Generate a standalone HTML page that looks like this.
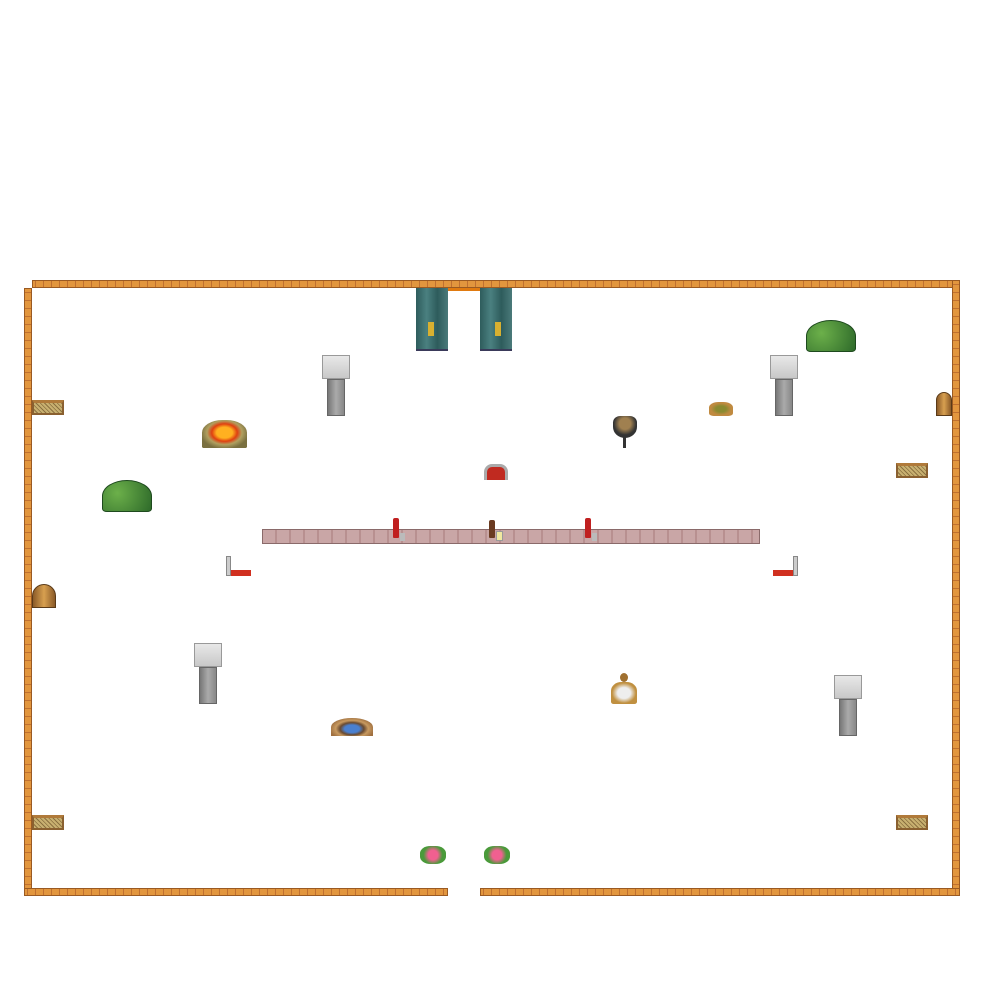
<!DOCTYPE html>
<html><head><meta charset="utf-8"><style>
body{margin:0;background:#fff;width:992px;height:992px;position:relative;overflow:hidden;font-family:"Liberation Sans",sans-serif}
div{position:absolute;box-sizing:border-box}
.wh{background:#e2963e;border:1px solid #9a5a22;background-image:repeating-linear-gradient(90deg,transparent 0 2px,#c07030 2px 3px,transparent 3px 8px)}
.wv{background:#e2963e;border:1px solid #9a5a22;background-image:repeating-linear-gradient(0deg,transparent 0 2px,#c07030 2px 3px,transparent 3px 8px)}
.cap{background:linear-gradient(#e8e8e8,#c8c8c8);border:1px solid #999}
.col{background:linear-gradient(90deg,#777,#aaa,#888);border:1px solid #666}
.fence{background:repeating-linear-gradient(45deg,#c8b070 0 2px,#8a7040 2px 3px);border:2px solid #8a6030;border-top:3px solid #b07a3a}
.door{background:linear-gradient(90deg,#8a5a28,#d8a050,#8a5a28);border-radius:12px 12px 0 0;border:1px solid #5a3a18}
.bush{background:radial-gradient(circle at 30% 40%,#6cb04a,#2e6a2a);border-radius:50% 50% 10% 10%;border:1px solid #1e4a1e}
.curt{background:linear-gradient(90deg,#2e5c5c,#4a8080,#2e5c5c,#4a7a7a);border-bottom:2px solid #3a3a5a}
.bottle{background:#c02020;border-radius:2px 2px 1px 1px}
.flower{background:radial-gradient(circle,#f06090 30%,#4a9a3a 60%);border-radius:40%}
</style></head><body>
<div class="wh" style="left:32px;top:280px;width:928px;height:8px"></div>
<div class="wv" style="left:952px;top:280px;width:8px;height:616px"></div>
<div class="wv" style="left:24px;top:288px;width:8px;height:608px"></div>
<div class="wh" style="left:24px;top:888px;width:424px;height:8px"></div>
<div class="wh" style="left:480px;top:888px;width:480px;height:8px"></div>
<div style="left:448px;top:288px;width:32px;height:3px;background:#e07a10"></div>
<div class="curt" style="left:416px;top:288px;width:32px;height:63px"></div>
<div class="curt" style="left:480px;top:288px;width:32px;height:63px"></div>
<div style="left:428px;top:322px;width:6px;height:14px;background:#d8b030"></div>
<div style="left:495px;top:322px;width:6px;height:14px;background:#d8b030"></div>
<div class="bush" style="left:806px;top:320px;width:50px;height:32px"></div>
<div class="bush" style="left:102px;top:480px;width:50px;height:32px"></div>

<div class="cap" style="left:322px;top:355px;width:28px;height:24px"></div>
<div class="col" style="left:327px;top:379px;width:18px;height:37px"></div>
<div class="cap" style="left:770px;top:355px;width:28px;height:24px"></div>
<div class="col" style="left:775px;top:379px;width:18px;height:37px"></div>
<div class="cap" style="left:194px;top:643px;width:28px;height:24px"></div>
<div class="col" style="left:199px;top:667px;width:18px;height:37px"></div>
<div class="cap" style="left:834px;top:675px;width:28px;height:24px"></div>
<div class="col" style="left:839px;top:699px;width:18px;height:37px"></div>

<div class="fence" style="left:32px;top:400px;width:32px;height:15px"></div>
<div class="fence" style="left:896px;top:463px;width:32px;height:15px"></div>
<div class="fence" style="left:32px;top:815px;width:32px;height:15px"></div>
<div class="fence" style="left:896px;top:815px;width:32px;height:15px"></div>
<div class="door" style="left:936px;top:392px;width:16px;height:24px"></div>
<div class="door" style="left:32px;top:584px;width:24px;height:24px"></div>

<div style="left:202px;top:420px;width:45px;height:28px;background:radial-gradient(ellipse at 50% 45%,#ffb020 25%,#e04010 40%,#b0a060 55%,#7a7040 75%);border-radius:45% 45% 5% 5%"></div>
<div style="left:709px;top:402px;width:24px;height:14px;background:radial-gradient(ellipse,#8a8a30 30%,#c08a40 60%);border-radius:40% 40% 20% 20%"></div>
<div style="left:613px;top:416px;width:24px;height:22px;background:radial-gradient(circle at 50% 35%,#a08050 30%,#333 60%);border-radius:30% 30% 50% 50%"></div>
<div style="left:623px;top:436px;width:3px;height:12px;background:#333"></div>
<div style="left:484px;top:464px;width:24px;height:16px;background:#c02a20;border:3px solid #aaa;border-bottom:none;border-radius:8px 8px 0 0"></div>

<div style="left:262px;top:529px;width:498px;height:15px;background:#c9a6a6;border:1px solid #8a6a6a;background-image:repeating-linear-gradient(90deg,transparent 0 12px,#b89090 12px 14px)"></div>
<div class="bottle" style="left:393px;top:518px;width:6px;height:20px"></div>
<div style="left:400px;top:533px;width:5px;height:8px;background:#bbb"></div>
<div class="bottle" style="left:489px;top:520px;width:6px;height:18px;background:#6a3a20"></div>
<div style="left:496px;top:531px;width:7px;height:10px;background:#f0e8a0;border:1px solid #999"></div>
<div class="bottle" style="left:585px;top:518px;width:6px;height:20px"></div>
<div style="left:592px;top:533px;width:5px;height:8px;background:#bbb"></div>

<div style="left:226px;top:556px;width:5px;height:20px;background:#ccc;border:1px solid #888"></div>
<div style="left:231px;top:570px;width:20px;height:6px;background:#d03020"></div>
<div style="left:793px;top:556px;width:5px;height:20px;background:#ccc;border:1px solid #888"></div>
<div style="left:773px;top:570px;width:20px;height:6px;background:#d03020"></div>

<div style="left:611px;top:682px;width:26px;height:22px;background:radial-gradient(ellipse,#eee 35%,#c09040 65%);border-radius:40% 40% 10% 10%"></div>
<div style="left:620px;top:673px;width:8px;height:9px;background:#a07030;border-radius:50%"></div>
<div style="left:331px;top:718px;width:42px;height:18px;background:radial-gradient(ellipse at 50% 60%,#4a80d0 25%,#6a4a30 40%,#c89a60 55%,#a07040 75%);border-radius:50% 50% 0 0"></div>
<div class="flower" style="left:420px;top:846px;width:26px;height:18px"></div>
<div class="flower" style="left:484px;top:846px;width:26px;height:18px"></div>
</body></html>
